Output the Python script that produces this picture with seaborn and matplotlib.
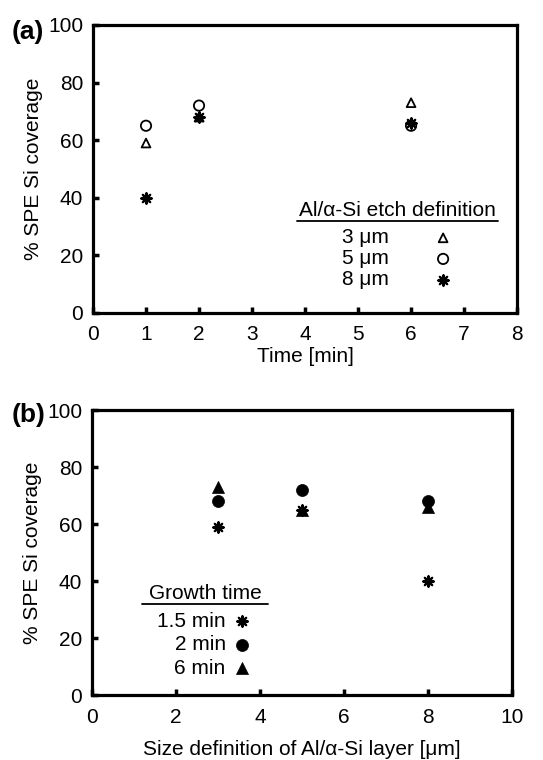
import seaborn as sns
import numpy as np
import matplotlib.pyplot as plt
from matplotlib.lines import Line2D
import pandas as pd

# panel (a): coverage vs time, one series per etch definition
time_min = [1, 2, 6]
cov_3um = [59, 68, 73]
cov_5um = [65, 72, 65]
cov_8um = [40, 68, 66]
labels_a = ["3 μm", "5 μm", "8 μm"]

# panel (b): coverage vs size, one series per growth time
size_um = [3, 5, 8]
cov_15min = [59, 65, 40]
cov_2min = [68, 72, 68]
cov_6min = [73, 65, 66]
labels_b = ["1.5 min", "2 min", "6 min"]

sns.set_style('ticks', {'text.color': 'black', 'axes.labelcolor': 'black',
                        'axes.edgecolor': 'black', 'xtick.color': 'black',
                        'ytick.color': 'black'})
plt.rcParams['font.family'] = ['Liberation Sans', 'DejaVu Sans']
plt.rcParams['font.size'] = 15

fig = plt.figure(figsize=(5.43, 7.6), dpi=100)
ax1 = fig.add_axes([0.1713, 0.5882, 0.781, 0.379])
ax2 = fig.add_axes([0.1694, 0.0855, 0.7735, 0.375])

star = (8, 2, 0)
open_kw = dict(color='black', facecolors='none', edgecolor='black', linewidth=1.3)
fill_kw = dict(color='black', edgecolor='black', linewidth=0.5)
star_kw = dict(color='black', edgecolor='black', linewidth=1.6)

sns.scatterplot(x=time_min, y=cov_3um, marker='^', s=40, label=labels_a[0], ax=ax1, **open_kw)
sns.scatterplot(x=time_min, y=cov_5um, marker='o', s=55, label=labels_a[1], ax=ax1, **open_kw)
sns.scatterplot(x=time_min, y=cov_8um, marker=star, s=55, label=labels_a[2], ax=ax1, **star_kw)

sns.scatterplot(x=size_um, y=cov_15min, marker=star, s=55, label=labels_b[0], ax=ax2, **star_kw)
sns.scatterplot(x=size_um, y=cov_2min, marker='o', s=75, label=labels_b[1], ax=ax2, **fill_kw)
sns.scatterplot(x=size_um, y=cov_6min, marker='^', s=75, label=labels_b[2], ax=ax2, **fill_kw)

ax1.set_xlim(0, 8)
ax1.set_xticks(range(0, 9))
ax2.set_xlim(0, 10)
ax2.set_xticks(range(0, 11, 2))

for ax in (ax1, ax2):
    ax.set_ylim(0, 100)
    ax.set_yticks(range(0, 101, 20))
    for sp in ax.spines.values():
        sp.set_visible(True)
        sp.set_linewidth(2.3)
        sp.set_color('black')
    ax.tick_params(direction='in', length=4, width=2.5, labelsize=15, pad=7,
                   color='black', labelcolor='black')
    ax.tick_params(axis='x', pad=9)
    ax.set_ylabel('% SPE Si coverage', fontsize=15, labelpad=4)

ax1.set_xlabel('Time [min]', fontsize=15, labelpad=2)
ax2.set_xlabel('Size definition of Al/α-Si layer [μm]', fontsize=15, labelpad=10)

leg1 = ax1.legend(title='Al/α-Si etch definition', title_fontsize=15, fontsize=15,
                  markerfirst=False, frameon=False, labelspacing=0.1,
                  handletextpad=2.1, handlelength=1.0, borderpad=0,
                  loc='upper left', bbox_to_anchor=(0.462, 0.425))
leg2 = ax2.legend(title='Growth time', title_fontsize=15, fontsize=15,
                  markerfirst=False, frameon=False, labelspacing=0.22,
                  handletextpad=0.3, handlelength=1.0, borderpad=0,
                  loc='upper left', bbox_to_anchor=(0.11, 0.425))
for leg in (leg1, leg2):
    leg._legend_box.sep = 6

fig.text(0.022, 0.958, '(a)', fontsize=19, fontweight='bold', va='center')
fig.text(0.022, 0.454, '(b)', fontsize=19, fontweight='bold', va='center')

# underline the legend titles
fig.canvas.draw()
W, H = fig.bbox.width, fig.bbox.height
for leg, ext in ((leg1, 2), (leg2, 7)):
    bb = leg.get_title().get_window_extent()
    y = (bb.y0 - 1) / H
    fig.add_artist(Line2D([(bb.x0 - ext) / W, (bb.x1 + ext) / W], [y, y],
                          color='black', linewidth=1.3, transform=fig.transFigure))

fig.savefig('out.png', dpi=100)
